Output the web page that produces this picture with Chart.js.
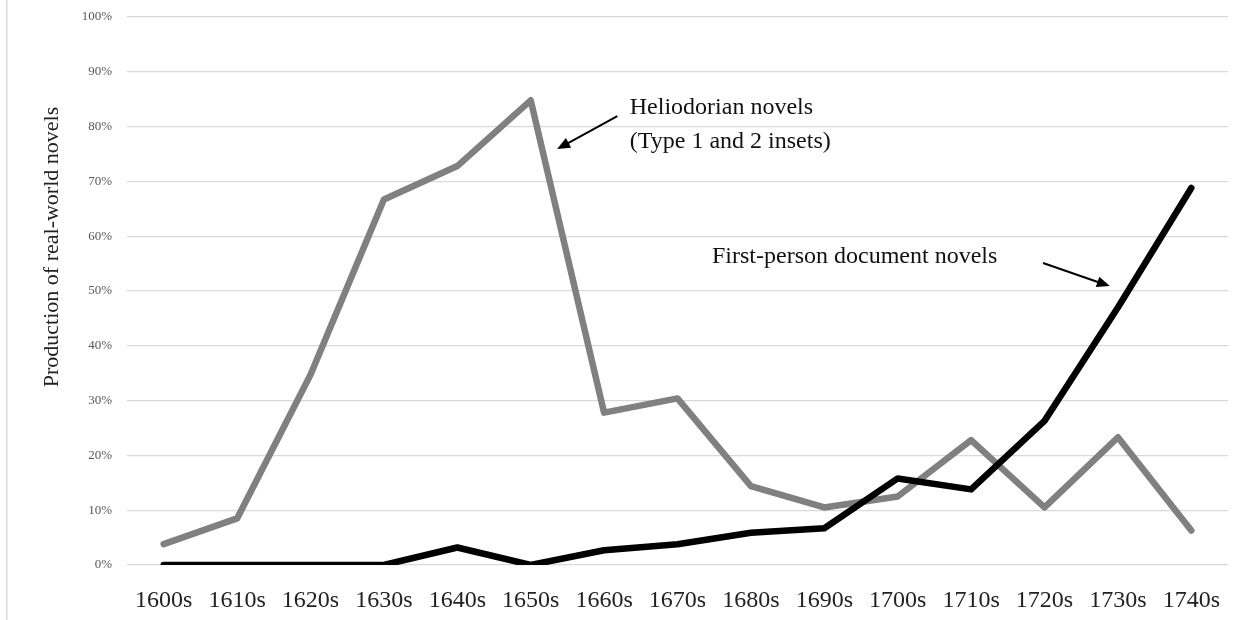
<!DOCTYPE html>
<html>
<head>
<meta charset="utf-8">
<script src="https://cdn.jsdelivr.net/npm/chart.js@4.4.0/dist/chart.umd.min.js"></script>
<style>
body{margin:0;background:#fff;}
</style>
</head>
<body>
<canvas id="mychart" width="1251" height="620"></canvas>
<script>
var decades = ["1600s","1610s","1620s","1630s","1640s","1650s","1660s","1670s","1680s","1690s","1700s","1710s","1720s","1730s","1740s"];
var heliodorian = [3.8, 8.5, 34.7, 66.7, 72.8, 84.8, 27.8, 30.4, 14.4, 10.5, 12.5, 22.8, 10.5, 23.3, 6.3];
var firstPerson = [0, 0, 0, 0, 3.2, 0, 2.7, 3.8, 5.9, 6.7, 15.8, 13.8, 26.3, 47, 68.8];
var yTitle = "Production of real-world novels";

// annotation text + arrows, placed in data units (category index, percent)
var notes = [
    {lines:["Heliodorian novels","(Type 1 and 2 insets)"], x:6.35, y:[83.4,77.2], from:[6.18,81.9], to:[5.36,75.9]},
    {lines:["First-person document novels"], x:7.47, y:[56.2], from:[11.98,55.1], to:[12.89,50.9]}
];

var serif = "'Liberation Serif', 'DejaVu Serif', serif";

var extras = {
    id:'extras',
    beforeDraw:function(chart){
        var ctx = chart.ctx;
        ctx.save();
        ctx.fillStyle = "#fff";
        ctx.fillRect(0,0,chart.width,chart.height);
        ctx.fillStyle = "#d9d9d9";
        ctx.fillRect(6,0,1.5,chart.height);
        ctx.restore();
    },
    afterDraw:function(chart){
        var ctx = chart.ctx;
        var xs = chart.scales.x, ys = chart.scales.y;
        ctx.save();
        // y axis title
        ctx.translate(52, 247);
        ctx.rotate(-Math.PI/2);
        ctx.font = "22px " + serif;
        ctx.fillStyle = "#222";
        ctx.textAlign = "center";
        ctx.textBaseline = "middle";
        ctx.fillText(yTitle, 0, 0);
        ctx.restore();

        notes.forEach(function(n){
            ctx.save();
            ctx.font = "24px " + serif;
            ctx.fillStyle = "#111";
            ctx.textAlign = "left";
            ctx.textBaseline = "middle";
            n.lines.forEach(function(t,i){
                ctx.fillText(t, xs.getPixelForValue(n.x), ys.getPixelForValue(n.y[i]));
            });
            var x1 = xs.getPixelForValue(n.from[0]), y1 = ys.getPixelForValue(n.from[1]);
            var x2 = xs.getPixelForValue(n.to[0]), y2 = ys.getPixelForValue(n.to[1]);
            var a = Math.atan2(y2-y1, x2-x1);
            var len = 13, w = 5.5;
            ctx.strokeStyle = "#000";
            ctx.lineWidth = 2;
            ctx.beginPath();
            ctx.moveTo(x1,y1);
            ctx.lineTo(x2 - Math.cos(a)*len*0.8, y2 - Math.sin(a)*len*0.8);
            ctx.stroke();
            ctx.fillStyle = "#000";
            ctx.beginPath();
            ctx.moveTo(x2,y2);
            ctx.lineTo(x2 - Math.cos(a)*len - Math.sin(a)*w, y2 - Math.sin(a)*len + Math.cos(a)*w);
            ctx.lineTo(x2 - Math.cos(a)*len + Math.sin(a)*w, y2 - Math.sin(a)*len - Math.cos(a)*w);
            ctx.closePath();
            ctx.fill();
            ctx.restore();
        });
    }
};

var mychart = document.getElementById("mychart").getContext('2d');
var chart = new Chart(mychart,{
    type:'line',
    data:{
        labels:decades,
        datasets:[
            {
                label:"First-person document novels",
                data:firstPerson,
                borderColor:"#000000",
                borderWidth:6.5,
                pointRadius:0,
                borderCapStyle:'round',
                borderJoinStyle:'round',
                tension:0
            },
            {
                label:"Heliodorian novels",
                data:heliodorian,
                borderColor:"#808080",
                borderWidth:6.5,
                pointRadius:0,
                borderCapStyle:'round',
                borderJoinStyle:'round',
                tension:0
            }
        ]
    },
    options:{
        responsive:false,
        animation:false,
        devicePixelRatio:1,
        layout:{padding:{top:17,right:23,left:0,bottom:0}},
        plugins:{legend:{display:false},tooltip:{enabled:false}},
        scales:{
            x:{
                offset:true,
                grid:{display:false},
                border:{display:false},
                ticks:{color:"#222",font:{family:serif,size:24},padding:13,maxRotation:0,autoSkip:false},
                afterFit:function(s){ s.height = 55; s.paddingLeft = 0; s.paddingRight = 0; }
            },
            y:{
                min:0,max:100,
                grid:{color:"#d9d9d9",lineWidth:1.3,drawTicks:false},
                border:{display:false},
                ticks:{stepSize:10,color:"#595959",font:{family:serif,size:13},padding:15,
                    callback:function(v){ return v + "%"; }},
                afterFit:function(s){ s.width = 127; s.paddingTop = 0; s.paddingBottom = 0; }
            }
        }
    },
    plugins:[extras]
});
</script>
</body>
</html>
